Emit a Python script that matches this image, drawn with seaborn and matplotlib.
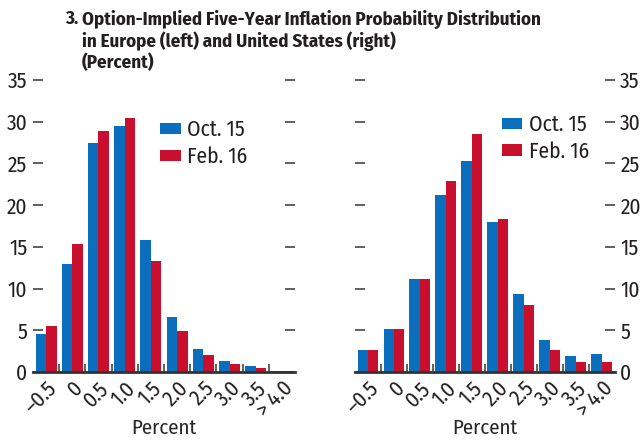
import pandas as pd
import seaborn as sns
import matplotlib.pyplot as plt
from matplotlib.ticker import FixedLocator

buckets = ["\u20130.5", "0", "0.5", "1.0", "1.5", "2.0", "2.5", "3.0", "3.5", "> 4.0"]
series = ["Oct. 15", "Feb. 16"]

europe_oct15 = [4.5, 13.0, 27.4, 29.5, 15.8, 6.6, 2.8, 1.3, 0.7, 0.1]
europe_feb16 = [5.5, 15.3, 28.9, 30.4, 13.3, 4.9, 2.0, 0.9, 0.45, 0.1]
us_oct15 = [2.6, 5.2, 11.2, 21.2, 25.3, 18.0, 9.4, 3.8, 1.9, 2.1]
us_feb16 = [2.6, 5.1, 11.2, 22.9, 28.5, 18.3, 8.0, 2.6, 1.2, 1.2]

colors = ["#0A6EBD", "#C8102E"]
font = ["Fira Sans Condensed", "DejaVu Sans"]
fs = 15.5


def to_frame(oct_vals, feb_vals):
    rows = []
    for b, v in zip(buckets, oct_vals):
        rows.append({"bucket": b, "series": series[0], "value": v})
    for b, v in zip(buckets, feb_vals):
        rows.append({"bucket": b, "series": series[1], "value": v})
    return pd.DataFrame(rows)


sns.set_style("white")
plt.rcParams["font.family"] = font
plt.rcParams["text.color"] = "#231f20"
plt.rcParams["xtick.color"] = "#231f20"
plt.rcParams["ytick.color"] = "#231f20"

fig = plt.figure(figsize=(6.43, 4.44), dpi=100)
ax_l = fig.add_axes([0.0513, 0.1622, 0.4075, 0.6576])
ax_r = fig.add_axes([0.552, 0.1622, 0.404, 0.6576])

panels = [
    (ax_l, to_frame(europe_oct15, europe_feb16), "left", (0.485, 0.865)),
    (ax_r, to_frame(us_oct15, us_feb16), "right", (0.565, 0.883)),
]

for ax, df, side, leg_pos in panels:
    sns.barplot(data=df, x="bucket", y="value", hue="series", order=buckets,
                hue_order=series, palette=colors, saturation=1, width=0.8,
                linewidth=0, ax=ax)
    ax.set_xlim(-0.5, len(buckets) - 0.5)
    ax.set_ylim(0, 35)
    ax.set_yticks(range(0, 36, 5))
    for s in ["top", "left", "right"]:
        ax.spines[s].set_visible(False)
    ax.spines["bottom"].set_color("#333333")
    ax.spines["bottom"].set_linewidth(2)

    ax.tick_params(axis="y", which="major", direction="in", length=7,
                   width=1.3, color="#555555", labelsize=fs, pad=4,
                   left=True, right=True,
                   labelleft=(side == "left"), labelright=(side == "right"))
    ax.set_xticks(range(len(buckets)))
    ax.set_xticklabels(buckets, rotation=45, ha="right",
                       rotation_mode="anchor", fontsize=fs)
    ax.tick_params(axis="x", which="major", length=0, pad=4)
    ax.xaxis.set_minor_locator(FixedLocator([i + 0.5 for i in range(len(buckets) - 1)]))
    ax.tick_params(axis="x", which="minor", direction="in", length=6,
                   width=1.3, color="#555555", bottom=True)
    ax.set_xlabel("Percent", fontsize=15, labelpad=-2)
    ax.set_ylabel("")

    ax.legend(loc="upper left", bbox_to_anchor=leg_pos, frameon=False,
              fontsize=fs, handlelength=0.95, handleheight=0.45,
              handletextpad=0.3, labelspacing=0.25, borderaxespad=0,
              borderpad=0)

fig.text(0.101, 0.977, "3.", fontsize=13.6, fontweight="bold", va="top")
fig.text(0.1275, 0.977,
         "Option-Implied Five-Year Inflation Probability Distribution\n"
         "in Europe (left) and United States (right)\n(Percent)",
         fontsize=13.6, fontweight="bold", va="top", linespacing=1.15)

fig.savefig("out.png", dpi=100)
